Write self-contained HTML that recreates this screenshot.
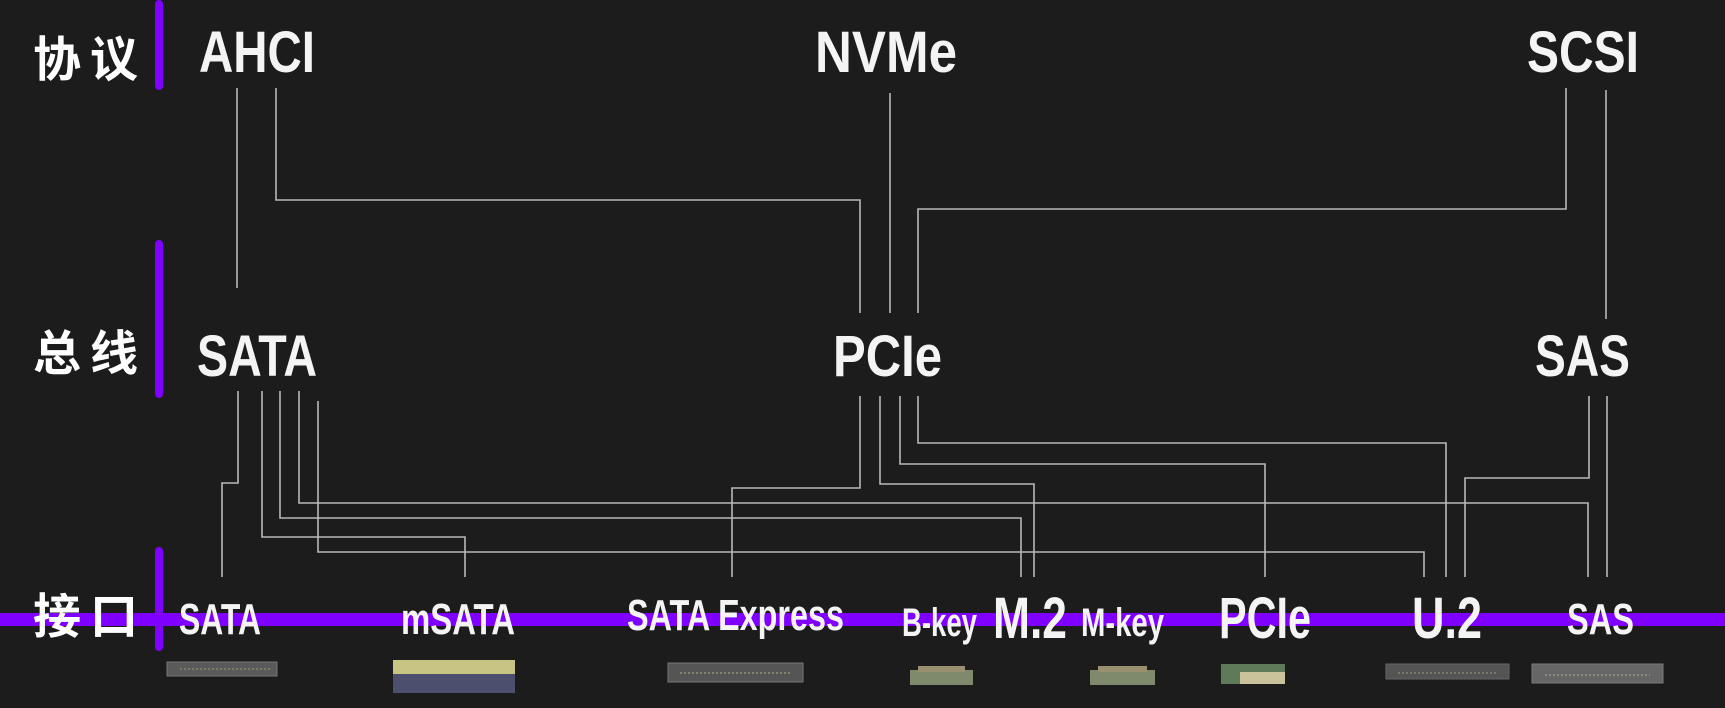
<!DOCTYPE html>
<html><head><meta charset="utf-8"><style>
html,body{margin:0;padding:0;background:#1b1b1b;}
svg{display:block}
.t{font-family:"Liberation Sans Narrow","Liberation Sans",sans-serif;font-weight:bold;fill:#f4f4f4;}
.c{font-family:"Noto Sans CJK SC","WenQuanYi Zen Hei",sans-serif;font-weight:bold;fill:#fff;font-size:48px;}
</style></head><body>
<svg width="1725" height="708" viewBox="0 0 1725 708" xmlns="http://www.w3.org/2000/svg">
<rect width="1725" height="708" fill="#1c1c1c"/>
<g fill="none" stroke="#b8b8b8" stroke-width="1.6">
<!-- top -->
<path d="M237 88V288"/>
<path d="M276 88V200H860V313"/>
<path d="M890 93V313"/>
<path d="M1566 88V209H918V313"/>
<path d="M1606 90V319"/>
<!-- SATA bus -->
<path d="M238 391V483H222V577"/>
<path d="M262 391V537H465V577"/>
<path d="M280 391V518H1021V577"/>
<path d="M299 391V503H1588V577"/>
<path d="M318 401V552H1424V577"/>
<!-- PCIe -->
<path d="M860 396V488H732V577"/>
<path d="M880 396V484H1034V577"/>
<path d="M900 396V464H1265V577"/>
<path d="M918 396V443H1446V577"/>
<!-- SAS -->
<path d="M1589 396V478H1465V577"/>
<path d="M1607 396V577"/>
</g>
<!-- purple -->
<rect x="0" y="613" width="1725" height="13" fill="#7f00ff"/>
<rect x="155" y="0" width="8" height="90" rx="4" fill="#7f00ff"/>
<rect x="155" y="240" width="8" height="158" rx="4" fill="#7f00ff"/>
<rect x="155" y="547" width="8" height="104" rx="4" fill="#7f00ff"/>
<!-- chinese -->
<text class="c" x="33" y="76" textLength="105" lengthAdjust="spacing">协 议</text>
<text class="c" x="33" y="370" textLength="105" lengthAdjust="spacing">总 线</text>
<text class="c" x="33" y="633" textLength="105" lengthAdjust="spacing">接 口</text>
<!-- top labels -->
<text class="t" x="199" y="72" font-size="58" textLength="116" lengthAdjust="spacingAndGlyphs">AHCI</text>
<text class="t" x="815" y="72" font-size="58" textLength="142" lengthAdjust="spacingAndGlyphs">NVMe</text>
<text class="t" x="1527" y="72" font-size="58" textLength="112" lengthAdjust="spacingAndGlyphs">SCSI</text>
<text class="t" x="197" y="376" font-size="58" textLength="120" lengthAdjust="spacingAndGlyphs">SATA</text>
<text class="t" x="833" y="376" font-size="58" textLength="109" lengthAdjust="spacingAndGlyphs">PCIe</text>
<text class="t" x="1535" y="376" font-size="58" textLength="95" lengthAdjust="spacingAndGlyphs">SAS</text>
<!-- bottom labels -->
<text class="t" x="179" y="634" font-size="44" textLength="82" lengthAdjust="spacingAndGlyphs">SATA</text>
<text class="t" x="401" y="634" font-size="44" textLength="114" lengthAdjust="spacingAndGlyphs">mSATA</text>
<text class="t" x="627" y="630" font-size="44" textLength="217" lengthAdjust="spacingAndGlyphs">SATA Express</text>
<text class="t" x="902" y="636" font-size="40" textLength="75" lengthAdjust="spacingAndGlyphs">B-key</text>
<text class="t" x="993" y="638" font-size="58" textLength="74" lengthAdjust="spacingAndGlyphs">M.2</text>
<text class="t" x="1081" y="636" font-size="40" textLength="83" lengthAdjust="spacingAndGlyphs">M-key</text>
<text class="t" x="1219" y="638" font-size="58" textLength="92" lengthAdjust="spacingAndGlyphs">PCIe</text>
<text class="t" x="1412" y="638" font-size="58" textLength="70" lengthAdjust="spacingAndGlyphs">U.2</text>
<text class="t" x="1567" y="634" font-size="44" textLength="67" lengthAdjust="spacingAndGlyphs">SAS</text>
<!-- connectors -->
<rect x="167" y="662" width="110" height="14" fill="#5a5a5a" stroke="#777"/>
<line x1="180" y1="669" x2="270" y2="669" stroke="#9a9a70" stroke-dasharray="2 2"/>
<rect x="393" y="660" width="122" height="14" fill="#c8c483"/>
<rect x="393" y="674" width="122" height="19" fill="#4c4f6e"/>
<rect x="668" y="663" width="135" height="19" fill="#555" stroke="#777"/>
<line x1="680" y1="673" x2="792" y2="673" stroke="#b0ad80" stroke-dasharray="2 2"/>
<rect x="910" y="670" width="63" height="15" fill="#7f8a6c"/>
<rect x="918" y="666" width="47" height="6" fill="#9a8f6e"/>
<rect x="1090" y="670" width="65" height="15" fill="#7f8a6c"/>
<rect x="1098" y="666" width="49" height="6" fill="#9a8f6e"/>
<rect x="1221" y="664" width="64" height="20" fill="#5f7a58"/>
<rect x="1240" y="672" width="45" height="12" fill="#c9c29a"/>
<rect x="1386" y="664" width="123" height="15" fill="#545454" stroke="#666"/>
<line x1="1398" y1="673" x2="1498" y2="673" stroke="#a09e80" stroke-dasharray="2 2"/>
<rect x="1532" y="664" width="131" height="19" fill="#666" stroke="#7a7a7a"/>
<line x1="1545" y1="675" x2="1650" y2="675" stroke="#b0ad90" stroke-dasharray="2 2"/>
</svg>
</body></html>
